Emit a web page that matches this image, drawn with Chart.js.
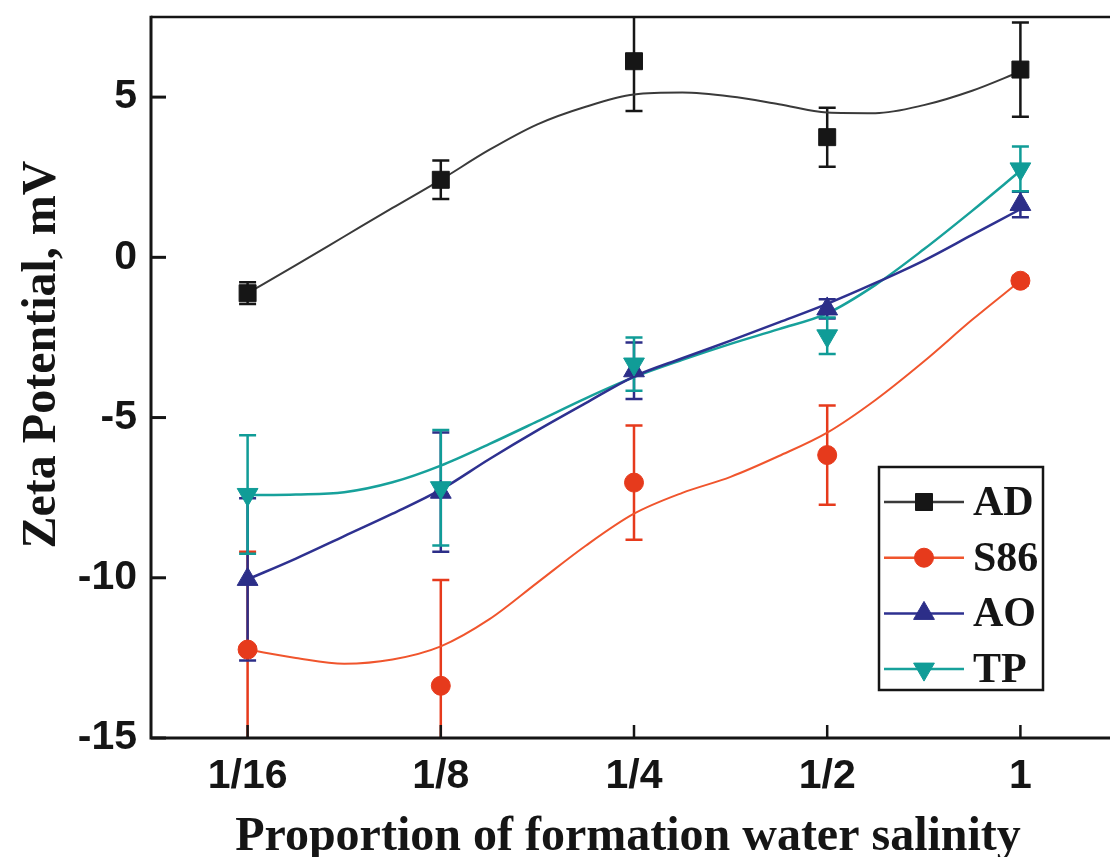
<!DOCTYPE html>
<html>
<head>
<meta charset="utf-8">
<script src="https://cdn.jsdelivr.net/npm/chart.js@4.4.1/dist/chart.umd.min.js"></script>
<style>
  html, body { margin: 0; padding: 0; background: #fff; overflow: hidden; }
  canvas { display: block; }
</style>
</head>
<body>
<canvas id="c" width="1130" height="857"></canvas>
<script>
// Salinity proportions on the x axis (plotted at index positions 0..4)
const categories = ['1/16', '1/8', '1/4', '1/2', '1'];
const yTicks = [-15, -10, -5, 0, 5];

// Measured zeta potentials (mV) and their error bars
const adValues  = [-1.12, 2.42, 6.12, 3.75, 5.86];
const adErrors  = [0.34, 0.6, 1.55, 0.92, 1.47];
const s86Values = [-12.24, -13.37, -7.03, -6.17, -0.73];
const s86Errors = [3.05, 3.3, 1.78, 1.55, 0.15];
const aoValues  = [-10.05, -7.33, -3.54, -1.61, 1.65];
const aoErrors  = [2.53, 1.86, 0.88, 0.3, 0.4];
const tpValues  = [-7.4, -7.19, -3.33, -2.45, 2.76];
const tpErrors  = [1.85, 1.8, 0.83, 0.57, 0.7];

// Smoothed trend curves, sampled every quarter step along the axis
const fitX   = [0, 0.25, 0.5, 0.75, 1, 1.25, 1.5, 1.75, 2, 2.25, 2.5, 2.75, 3, 3.25, 3.5, 3.75, 4];
const adFit  = [-1.12, -0.24, 0.65, 1.54, 2.42, 3.35, 4.15, 4.7, 5.08, 5.14, 5.02, 4.78, 4.52, 4.5, 4.75, 5.2, 5.8];
const s86Fit = [-12.24, -12.5, -12.68, -12.55, -12.14, -11.3, -10.15, -9.0, -8.0, -7.35, -6.85, -6.2, -5.47, -4.45, -3.25, -1.95, -0.73];
const aoFit  = [-10.05, -9.4, -8.7, -8.0, -7.25, -6.3, -5.4, -4.55, -3.72, -3.15, -2.6, -2.03, -1.45, -0.8, -0.1, 0.7, 1.5];
const tpFit  = [-7.42, -7.4, -7.33, -7.02, -6.5, -5.83, -5.12, -4.4, -3.74, -3.2, -2.7, -2.24, -1.75, -0.86, 0.25, 1.45, 2.7];

const series = [
  { label: 'AD',  values: adValues,  errors: adErrors,  fit: adFit,  color: '#161616', lineColor: '#3a3a3a', style: 'rect',     radius: 12,  rotation: 0,   fitWidth: 2 },
  { label: 'S86', values: s86Values, errors: s86Errors, fit: s86Fit, color: '#e63a1c', lineColor: '#f0552d', style: 'circle',   radius: 9.5, rotation: 0,   fitWidth: 2 },
  { label: 'AO',  values: aoValues,  errors: aoErrors,  fit: aoFit,  color: '#2c2e88', lineColor: '#2e3190', style: 'triangle', radius: 12,  rotation: 0,   fitWidth: 2.5 },
  { label: 'TP',  values: tpValues,  errors: tpErrors,  fit: tpFit,  color: '#109c97', lineColor: '#17a19b', style: 'triangle', radius: 12,  rotation: 180, fitWidth: 2.5 }
];

const datasets = [];
series.forEach((s, k) => {
  datasets.push({
    label: s.label + ' trend',
    data: fitX.map((x, i) => ({ x: x, y: s.fit[i] })),
    borderColor: s.lineColor,
    borderWidth: s.fitWidth,
    pointRadius: 0,
    cubicInterpolationMode: 'monotone',
    fill: false,
    order: 10 + k
  });
});
series.forEach((s, k) => {
  datasets.push({
    label: s.label,
    data: s.values.map((v, i) => ({ x: i, y: v })),
    errors: s.errors,
    showLine: false,
    pointStyle: s.style,
    pointRotation: s.rotation,
    pointRadius: s.radius,
    pointHoverRadius: s.radius,
    pointBackgroundColor: s.color,
    pointBorderColor: s.color,
    pointBorderWidth: 1,
    legendLine: s.lineColor,
    order: 4 - k
  });
});

function markerDatasets(chart) {
  return chart.data.datasets.filter(d => Array.isArray(d.errors));
}

// vertical error bars with caps, drawn beneath the markers
const errorBars = {
  id: 'errorBars',
  beforeDatasetsDraw(chart) {
    const { ctx, chartArea: a } = chart;
    const xs = chart.scales.x, ys = chart.scales.y;
    ctx.save();
    ctx.beginPath();
    ctx.rect(a.left, a.top, a.right - a.left, a.bottom - a.top);
    ctx.clip();
    markerDatasets(chart).forEach(d => {
      ctx.strokeStyle = d.pointBorderColor;
      ctx.lineWidth = 2.5;
      d.data.forEach((p, i) => {
        const e = d.errors[i];
        const x = xs.getPixelForValue(p.x);
        const y1 = ys.getPixelForValue(p.y + e);
        const y2 = ys.getPixelForValue(p.y - e);
        ctx.beginPath();
        ctx.moveTo(x, y1); ctx.lineTo(x, y2);
        ctx.moveTo(x - 8.5, y1); ctx.lineTo(x + 8.5, y1);
        ctx.moveTo(x - 8.5, y2); ctx.lineTo(x + 8.5, y2);
        ctx.stroke();
      });
    });
    ctx.restore();
  }
};

function drawMarker(ctx, d, x, y) {
  const opts = { pointStyle: d.pointStyle, radius: d.pointRadius, rotation: d.pointRotation, borderWidth: 1 };
  ctx.fillStyle = d.pointBackgroundColor;
  ctx.strokeStyle = d.pointBorderColor;
  ctx.lineWidth = 1;
  Chart.helpers.drawPoint(ctx, opts, x, y);
}

// framed plot area, inward tick marks, axis titles and the boxed legend
const decorations = {
  id: 'decorations',
  afterDatasetsDraw(chart) {
    const { ctx, chartArea: a } = chart;
    const xs = chart.scales.x, ys = chart.scales.y;
    ctx.save();
    ctx.strokeStyle = '#151515';
    ctx.lineCap = 'butt';

    // frame
    ctx.lineWidth = 2.5;
    ctx.beginPath();
    ctx.moveTo(a.left, a.top); ctx.lineTo(a.right, a.top); ctx.lineTo(a.right, a.bottom);
    ctx.stroke();
    ctx.lineWidth = 3;
    ctx.beginPath();
    ctx.moveTo(a.left, a.top - 1.2); ctx.lineTo(a.left, a.bottom); ctx.lineTo(a.right, a.bottom);
    ctx.stroke();

    // inward ticks
    ctx.lineWidth = 3;
    ys.ticks.forEach(t => {
      const y = ys.getPixelForValue(t.value);
      ctx.beginPath(); ctx.moveTo(a.left, y); ctx.lineTo(a.left + 15, y); ctx.stroke();
    });
    ctx.lineWidth = 2.5;
    xs.ticks.forEach(t => {
      const x = xs.getPixelForValue(t.value);
      ctx.beginPath(); ctx.moveTo(x, a.bottom); ctx.lineTo(x, a.bottom - 13); ctx.stroke();
    });

    // axis titles
    ctx.fillStyle = '#151515';
    ctx.font = 'bold 48px "Liberation Serif", "Times New Roman", serif';
    ctx.textAlign = 'center';
    ctx.textBaseline = 'alphabetic';
    ctx.fillText('Proportion of formation water salinity', (a.left + a.right) / 2 - 6, 850);
    ctx.save();
    ctx.translate(55, (a.top + a.bottom) / 2 - 23);
    ctx.rotate(-Math.PI / 2);
    ctx.fillText('Zeta Potential, mV', 0, 0);
    ctx.restore();

    // legend
    const box = { left: a.left + 728, top: a.top + 450, width: 164, height: 223 };
    ctx.fillStyle = '#ffffff';
    ctx.fillRect(box.left, box.top, box.width, box.height);
    ctx.lineWidth = 2.5;
    ctx.strokeStyle = '#151515';
    ctx.strokeRect(box.left, box.top, box.width, box.height);
    ctx.font = 'bold 42px "Liberation Serif", "Times New Roman", serif';
    ctx.textAlign = 'left';
    ctx.textBaseline = 'middle';
    markerDatasets(chart).forEach((d, i) => {
      const y = box.top + 35 + i * 55.7;
      ctx.strokeStyle = d.legendLine;
      ctx.lineWidth = 2.5;
      ctx.beginPath(); ctx.moveTo(box.left + 5, y); ctx.lineTo(box.left + 85, y); ctx.stroke();
      drawMarker(ctx, d, box.left + 45, y);
      ctx.fillStyle = '#151515';
      ctx.fillText(d.label, box.left + 94, y + 2);
    });
    ctx.restore();
  }
};

const tickFont = { family: '"Liberation Sans", Arial, sans-serif', size: 41, weight: 'bold' };

new Chart(document.getElementById('c'), {
  type: 'line',
  data: { datasets: datasets },
  options: {
    responsive: false,
    animation: false,
    devicePixelRatio: 1,
    layout: { padding: { top: 17, right: 9, left: 0, bottom: 0 } },
    plugins: { legend: { display: false }, tooltip: { enabled: false } },
    scales: {
      x: {
        type: 'linear',
        min: -0.5,
        max: 4.5,
        afterBuildTicks(scale) { scale.ticks = categories.map((c, i) => ({ value: i })); },
        afterFit(scale) { scale.height = 119; scale.paddingLeft = 0; scale.paddingRight = 0; },
        ticks: {
          font: tickFont,
          color: '#151515',
          padding: 14,
          maxRotation: 0,
          callback: (v) => categories[v] !== undefined ? categories[v] : ''
        },
        grid: { display: false, drawTicks: false },
        border: { display: false }
      },
      y: {
        min: -15,
        max: 7.5,
        afterBuildTicks(scale) { scale.ticks = yTicks.map(v => ({ value: v })); },
        afterFit(scale) { scale.width = 151; scale.paddingTop = 0; scale.paddingBottom = 0; },
        ticks: { font: tickFont, color: '#151515', padding: 14 },
        grid: { display: false, drawTicks: false },
        border: { display: false }
      }
    }
  },
  plugins: [errorBars, decorations]
});
</script>
</body>
</html>
